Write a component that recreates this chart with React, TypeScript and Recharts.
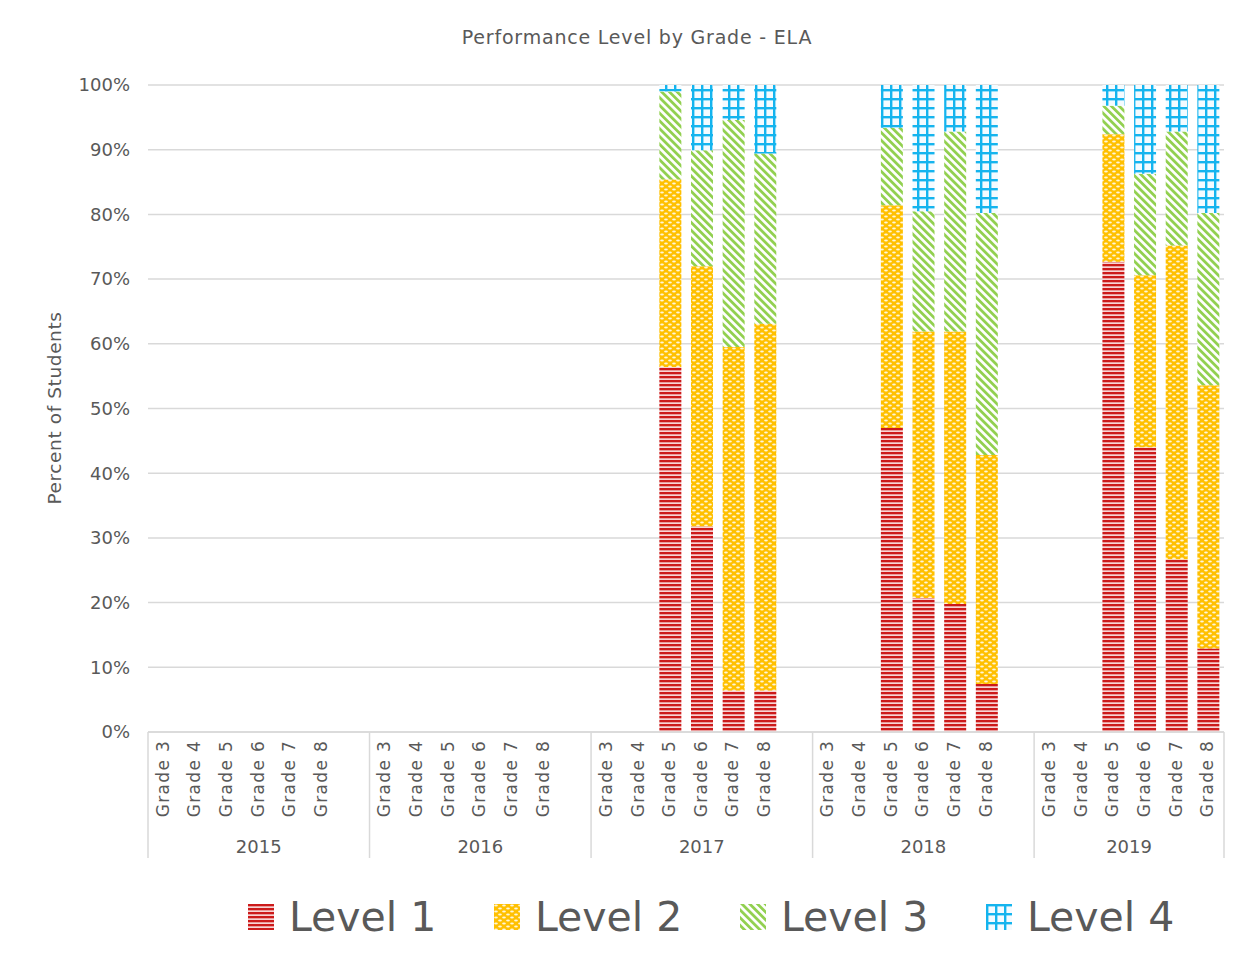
import { BarChart, Bar, XAxis, YAxis, CartesianGrid } from 'recharts'

const grades = ['Grade 3', 'Grade 4', 'Grade 5', 'Grade 6', 'Grade 7', 'Grade 8']
const years = ['2015', '2016', '2017', '2018', '2019']
const yTicks = [0, 10, 20, 30, 40, 50, 60, 70, 80, 90, 100]

// percent of students per year (rows) and grade 3..8 (cols); null = no data
const level1 = [
  [null, null, null, null, null, null],
  [null, null, null, null, null, null],
  [null, null, 56.4, 31.8, 6.4, 6.4],
  [null, null, 47.0, 20.7, 19.8, 7.4],
  [null, null, 72.7, 44.0, 26.7, 12.9],
]
const level2 = [
  [null, null, null, null, null, null],
  [null, null, null, null, null, null],
  [null, null, 29.0, 40.2, 53.1, 56.7],
  [null, null, 34.4, 41.2, 42.1, 35.4],
  [null, null, 19.7, 26.6, 48.5, 40.7],
]
const level3 = [
  [null, null, null, null, null, null],
  [null, null, null, null, null, null],
  [null, null, 13.6, 17.9, 35.1, 26.3],
  [null, null, 12.0, 18.6, 30.9, 37.4],
  [null, null, 4.4, 15.7, 17.6, 26.6],
]
const level4 = [
  [null, null, null, null, null, null],
  [null, null, null, null, null, null],
  [null, null, 1.0, 10.1, 5.4, 10.6],
  [null, null, 6.6, 19.5, 7.2, 19.8],
  [null, null, 3.2, 13.7, 7.2, 19.8],
]

const levels = [
  { key: 'l1', name: 'Level 1', values: level1, fill: 'url(#lvl1)' },
  { key: 'l2', name: 'Level 2', values: level2, fill: 'url(#lvl2)' },
  { key: 'l3', name: 'Level 3', values: level3, fill: 'url(#lvl3)' },
  { key: 'l4', name: 'Level 4', values: level4, fill: 'url(#lvl4)' },
]

type Row = { key: string; grade: string; year: string; gi: number; yi: number; [k: string]: any }

// one slot per grade, plus an empty slot between years (like the Excel source)
const data: Row[] = []
years.forEach((year, yi) => {
  grades.forEach((grade, gi) => {
    const row: Row = { key: `${year}-${grade}`, grade, year, gi, yi }
    levels.forEach(l => { row[l.key] = l.values[yi][gi] })
    data.push(row)
  })
  if (yi < years.length - 1) data.push({ key: `gap-${yi}`, grade: '', year: '', gi: -1, yi })
})
const rowByKey: Record<string, Row> = {}
data.forEach(r => { rowByKey[r.key] = r })

const FONT = '"DejaVu Sans", sans-serif'
const TEXT = '#595959'
const GRID = '#d9d9d9'

const CHART_W = 1240
const CHART_H = 860
const MARGIN = { top: 77, right: 24, left: 40, bottom: 6 }
const Y_W = 100
const PLOT_W = CHART_W - MARGIN.left - MARGIN.right - Y_W
const BAND = PLOT_W / data.length

function GradeTick(props: any) {
  const { x, y, payload } = props
  const row = rowByKey[payload.value]
  if (!row || !row.grade) return null
  const isLast = row.yi === years.length - 1
  const slots = isLast ? grades.length : grades.length + 1
  const left = x - BAND / 2
  return (
    <g>
      <text
        transform={`translate(${x + 5},${y + 8}) rotate(-90)`}
        textAnchor="end"
        fontSize={17}
        letterSpacing={1.3}
        fill={TEXT}
        fontFamily={FONT}
      >
        {row.grade}
      </text>
      {row.gi === 0 && (
        <>
          <line x1={left} y1={y} x2={left} y2={y + 126} stroke={GRID} strokeWidth={1.5} />
          <text x={left + (slots * BAND) / 2} y={y + 121} textAnchor="middle" fontSize={18} fill={TEXT} fontFamily={FONT}>
            {row.year}
          </text>
        </>
      )}
      {isLast && row.gi === grades.length - 1 && (
        <line x1={x + BAND / 2} y1={y} x2={x + BAND / 2} y2={y + 126} stroke={GRID} strokeWidth={1.5} />
      )}
    </g>
  )
}

function YLabel() {
  return (
    <text
      transform={`translate(${53},${400}) rotate(-90)`}
      textAnchor="middle"
      fontSize={18.5}
      letterSpacing={0.6}
      fill={TEXT}
      fontFamily={FONT}
    >
      Percent of Students
    </text>
  )
}

function Swatch({ fill }: { fill: string }) {
  return (
    <svg width={26} height={26} style={{ display: 'block' }}>
      <rect width={26} height={26} fill={fill} />
    </svg>
  )
}

export default function App() {
  return (
    <div style={{ position: 'relative', width: 1246, height: 947, fontFamily: FONT }}>
      <div
        style={{
          position: 'absolute',
          top: 18,
          left: 0,
          width: 1246,
          textAlign: 'center',
          fontSize: 19,
          letterSpacing: 0.8,
          color: TEXT,
          paddingLeft: 12,
          boxSizing: 'border-box',
        }}
      >
        Performance Level by Grade - ELA
      </div>

      <BarChart width={CHART_W} height={CHART_H} data={data} margin={MARGIN} barSize={22}>
        <defs>
          <pattern id="lvl1" width={4} height={4} patternUnits="userSpaceOnUse">
            <rect width={4} height={4} fill="#f7d4d4" />
            <rect width={4} height={2.3} fill="#cc1a1a" />
          </pattern>
          <pattern id="lvl2" width={8} height={6} patternUnits="userSpaceOnUse">
            <rect width={8} height={6} fill="#ffc000" />
            <ellipse cx={2} cy={1.5} rx={1.9} ry={1.1} fill="#fff6d9" />
            <ellipse cx={6} cy={4.5} rx={1.9} ry={1.1} fill="#fff6d9" />
          </pattern>
          <pattern id="lvl3" width={5.5} height={5.5} patternUnits="userSpaceOnUse" patternTransform="rotate(-45)">
            <rect width={5.5} height={5.5} fill="#ffffff" />
            <rect width={2.8} height={5.5} fill="#92d050" />
          </pattern>
          <pattern id="lvl4" width={9} height={9} patternUnits="userSpaceOnUse">
            <rect width={9} height={9} fill="#f4fbff" />
            <rect x={0} y={0} width={2.4} height={9} fill="#14b4ee" />
            <rect x={0} y={0} width={9} height={2.4} fill="#14b4ee" />
          </pattern>
        </defs>
        <CartesianGrid vertical={false} stroke={GRID} strokeWidth={1.5} />
        <XAxis
          dataKey="key"
          interval={0}
          height={130}
          tickLine={false}
          tickSize={0}
          tickMargin={0}
          axisLine={{ stroke: GRID, strokeWidth: 1.5 }}
          tick={<GradeTick />}
        />
        <YAxis
          width={Y_W}
          domain={[0, 100]}
          ticks={yTicks}
          allowDataOverflow
          tickFormatter={(v: number) => `${v}%`}
          axisLine={false}
          tickLine={false}
          tickSize={8}
          tickMargin={10}
          tick={{ fill: TEXT, fontSize: 18, fontFamily: FONT }}
          label={<YLabel />}
        />
        {levels.map(l => (
          <Bar key={l.key} dataKey={l.key} name={l.name} stackId="a" fill={l.fill} isAnimationActive={false} />
        ))}
      </BarChart>

      <div style={{ position: 'absolute', top: 886, left: 240, display: 'flex' }}>
        {levels.map(l => (
          <div key={l.key} style={{ width: 246, display: 'flex', alignItems: 'center' }}>
            <Swatch fill={l.fill} />
            <span style={{ marginLeft: 15, fontSize: 41, color: TEXT, lineHeight: '46px' }}>{l.name}</span>
          </div>
        ))}
      </div>
    </div>
  )
}
